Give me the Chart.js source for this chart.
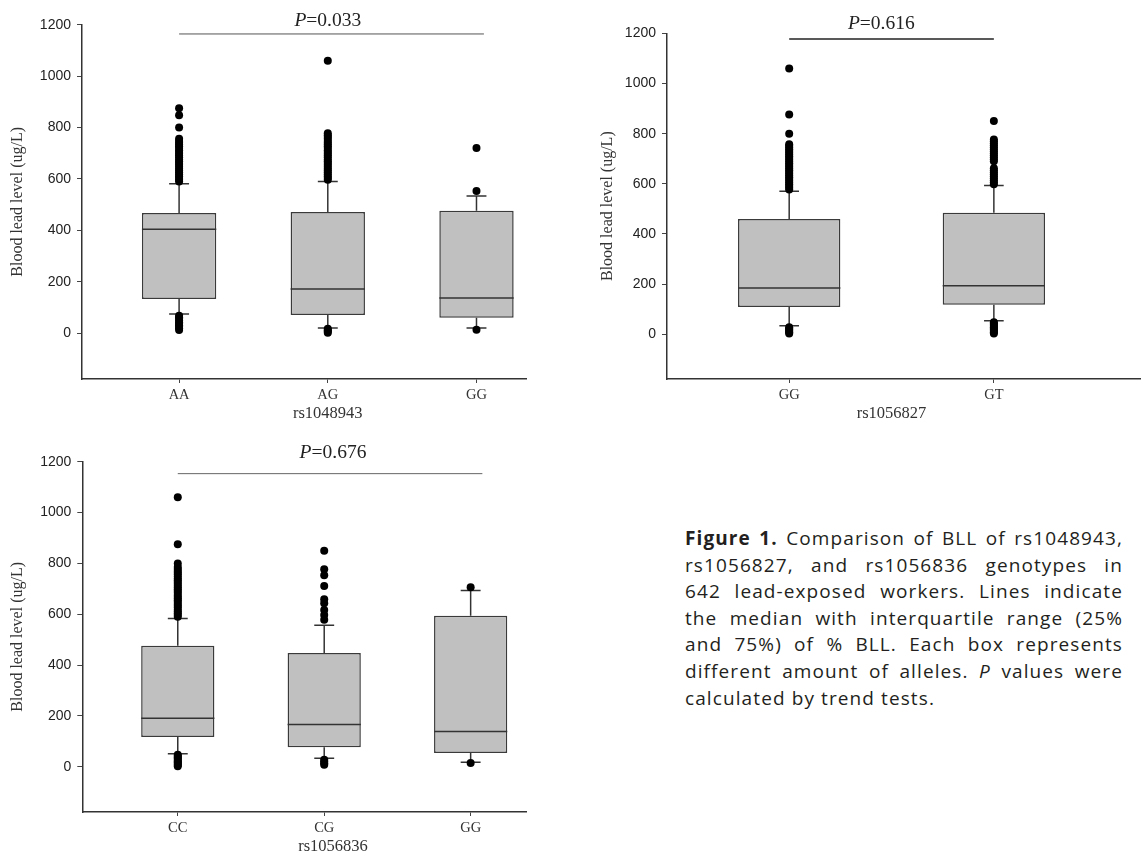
<!DOCTYPE html>
<html>
<head>
<meta charset="utf-8">
<script src="https://cdn.jsdelivr.net/npm/chart.js@4.4.1/dist/chart.umd.min.js"></script>
<style>
    html, body { margin: 0; padding: 0; background: #fff; width: 1144px; height: 854px; overflow: hidden; }
    .panel { position: absolute; }
    .caption {
        position: absolute; left: 685px; top: 525px; width: 438px;
        font-family: 'Open Sans', 'Noto Sans', sans-serif; font-size: 19px; line-height: 26.6px;
        letter-spacing: 1.1px; color: #231f20;
    }
    .caption span { display: block; text-align: justify; text-align-last: justify; white-space: nowrap; }
    .caption span.last { text-align-last: left; }
</style>
</head>
<body>
<div class="panel" style="left:0;top:0;width:530px;height:419px"><canvas id="chart1"></canvas></div>
<div class="panel" style="left:590px;top:0;width:554px;height:419px"><canvas id="chart2"></canvas></div>
<div class="panel" style="left:0;top:430px;width:530px;height:422px"><canvas id="chart3"></canvas></div>
<div class="caption">
<span><b>Figure 1.</b> Comparison of BLL of rs1048943,</span>
<span>rs1056827, and rs1056836 genotypes in</span>
<span>642 lead-exposed workers. Lines indicate</span>
<span>the median with interquartile range (25%</span>
<span>and 75%) of % BLL. Each box represents</span>
<span>different amount of alleles. <i>P</i> values were</span>
<span class="last">calculated by trend tests.</span>
</div>
<script>
// tick labels shared by all three panels
const yTicks = [0, 200, 400, 600, 800, 1000, 1200];

// rs1048943
const genotypes1 = ['AA', 'AG', 'GG'];
const q1_1 = [133, 71, 60];
const median1 = [404, 172, 137];
const q3_1 = [468, 472, 476];
const whiskerLow1 = [75, 20, 20];
const whiskerHigh1 = [581, 590, 534];
const outliers1 = [
    [590, 597, 604, 611, 618, 626, 633, 640, 648, 655, 662, 669, 676, 684, 691, 698, 705, 712, 720, 727, 734, 741, 748, 756, 800, 848, 875,
     13, 19, 25, 31, 37, 43, 50, 56, 62, 68],
    [597, 604, 611, 618, 626, 633, 640, 648, 655, 662, 669, 676, 684, 691, 698, 705, 712, 720, 727, 734, 741, 748, 756, 763, 770, 778, 1060,
     2, 7, 12, 17],
    [553, 720, 14]
];

// rs1056827
const genotypes2 = ['GG', 'GT'];
const q1_2 = [109, 118];
const median2 = [185, 194];
const q3_2 = [460, 485];
const whiskerLow2 = [34, 54];
const whiskerHigh2 = [570, 593];
const outliers2 = [
    [577, 584, 591, 598, 605, 612, 619, 626, 633, 640, 647, 654, 661, 668, 675, 682, 689, 696, 703, 710, 717, 724, 731, 738, 745, 752, 758, 800, 876, 1060,
     3, 8, 13, 18, 23, 28],
    [598, 606, 614, 622, 630, 638, 646, 654, 662, 690, 698, 706, 714, 722, 730, 738, 746, 754, 762, 770, 777, 850,
     3, 8, 13, 18, 23, 28, 33, 38, 43, 48]
];

// rs1056836
const genotypes3 = ['CC', 'CG', 'GG'];
const q1_3 = [117, 77, 54];
const median3 = [191, 166, 139];
const q3_3 = [476, 447, 594];
const whiskerLow3 = [51, 33, 18];
const whiskerHigh3 = [583, 557, 693];
const outliers3 = [
    [590, 597, 604, 611, 618, 626, 633, 640, 648, 655, 662, 669, 676, 684, 691, 698, 705, 712, 720, 727, 734, 741, 748, 756, 763, 770, 778, 786, 800, 875, 1060,
     2, 7, 12, 17, 22, 27, 32, 37, 42, 47],
    [578, 597, 617, 643, 659, 711, 753, 777, 850,
     8, 14, 21, 28],
    [706, 15]
];

const pLabels = ['=0.033', '=0.616', '=0.676'];
const xTitles = ['rs1048943', 'rs1056827', 'rs1056836'];

const serif = "'Liberation Serif', 'Times New Roman', serif";
const sans = "'Liberation Sans', Arial, sans-serif";
const ink = '#333';

Chart.defaults.font.family = sans;
Chart.defaults.color = ink;

// P value and x-axis title, centred over the genotype groups
const annotPlugin = {
    id: 'annot',
    afterDraw(chart, args, opts) {
        const { ctx, chartArea } = chart;
        const x = chart.scales.x, y = chart.scales.y;
        ctx.save();
        ctx.fillStyle = '#222';
        ctx.textBaseline = 'middle';
        ctx.textAlign = 'left';
        const italic = 'italic 19.5px ' + serif;
        const normal = '19.5px ' + serif;
        ctx.font = italic;
        const w1 = ctx.measureText('P').width;
        ctx.font = normal;
        const w2 = ctx.measureText(opts.pValue).width;
        const px = x.getPixelForValue(opts.pX) - (w1 + w2) / 2;
        const py = y.getPixelForValue(opts.pY);
        ctx.font = italic;
        ctx.fillText('P', px, py);
        ctx.font = normal;
        ctx.fillText(opts.pValue, px + w1, py);

        ctx.font = '16.5px ' + serif;
        ctx.textAlign = 'center';
        ctx.fillStyle = ink;
        ctx.fillText(opts.title, x.getPixelForValue(opts.titleX), chartArea.bottom + 35);
        ctx.restore();
    }
};

function makeBoxPlot(canvasId, cfg) {
    const { labels, q1, med, q3, lo, hi, outliers, capHalf } = cfg;

    const boxes = q1.map((v, i) => ({ x: i, y: [v, q3[i]] }));
    const medians = [];
    const whiskers = [];
    labels.forEach((_, i) => {
        medians.push({ x: i - 0.25, y: med[i] }, { x: i + 0.25, y: med[i] }, { x: i, y: null });
        whiskers.push(
            { x: i, y: q3[i] }, { x: i, y: hi[i] }, { x: i, y: null },
            { x: i - capHalf, y: hi[i] }, { x: i + capHalf, y: hi[i] }, { x: i, y: null },
            { x: i, y: q1[i] }, { x: i, y: lo[i] }, { x: i, y: null },
            { x: i - capHalf, y: lo[i] }, { x: i + capHalf, y: lo[i] }, { x: i, y: null }
        );
    });
    const points = [];
    outliers.forEach((list, i) => list.forEach(v => points.push({ x: i, y: v })));

    const lineStyle = { type: 'line', borderColor: ink, borderWidth: 1.5, pointRadius: 0, fill: false, tension: 0, spanGaps: false };

    return new Chart(document.getElementById(canvasId), {
        type: 'scatter',
        data: {
            datasets: [
                { type: 'scatter', data: points, pointRadius: 4, pointBackgroundColor: '#000', pointBorderWidth: 0, clip: false },
                Object.assign({ data: medians }, lineStyle),
                Object.assign({ data: whiskers }, lineStyle),
                {
                    type: 'line', data: [{ x: 0, y: cfg.pLineY }, { x: cfg.pLineEnd, y: cfg.pLineY }],
                    borderColor: cfg.pLineColor, borderWidth: cfg.pLineWidth, pointRadius: 0, fill: false
                },
                {
                    type: 'bar', data: boxes, backgroundColor: '#c0c0c0', borderColor: '#3a3a3a',
                    borderWidth: 1.5, borderSkipped: false, barPercentage: 0.5, categoryPercentage: 1
                }
            ]
        },
        options: {
            responsive: true,
            maintainAspectRatio: false,
            animation: false,
            layout: { padding: { top: cfg.top, left: 0, right: 0, bottom: 0 } },
            plugins: {
                legend: { display: false },
                tooltip: { enabled: false },
                annot: { pValue: cfg.pValue, pX: cfg.pX, pY: cfg.pY, title: cfg.title, titleX: cfg.titleX }
            },
            scales: {
                x: {
                    type: 'linear',
                    min: cfg.xMin,
                    max: cfg.xMax,
                    offset: false,
                    afterBuildTicks: s => { s.ticks = labels.map((_, i) => ({ value: i })); },
                    afterFit: s => { s.height = 40; },
                    ticks: {
                        callback: v => labels[v] || '',
                        font: { family: serif, size: 14.5 },
                        color: ink,
                        padding: 3,
                        maxRotation: 0
                    },
                    grid: { drawOnChartArea: false, drawTicks: true, tickLength: 4, color: '#444', offset: false },
                    border: { display: true, color: ink, width: 1.5 }
                },
                y: {
                    min: -178,
                    max: 1200,
                    afterBuildTicks: s => { s.ticks = yTicks.map(v => ({ value: v })); },
                    afterFit: s => { s.width = cfg.yWidth; },
                    ticks: { callback: v => String(v), font: { family: sans, size: 14 }, color: '#222', padding: 6 },
                    grid: { drawOnChartArea: false, drawTicks: true, tickLength: 5, color: '#444' },
                    border: { display: true, color: ink, width: 1.5 },
                    title: {
                        display: true,
                        text: 'Blood lead level (ug/L)',
                        font: { family: serif, size: 16 },
                        color: ink,
                        padding: { top: 8.4, bottom: 0 }
                    }
                }
            }
        },
        plugins: [annotPlugin]
    });
}

document.addEventListener('DOMContentLoaded', () => {
    makeBoxPlot('chart1', {
        labels: genotypes1, q1: q1_1, med: median1, q3: q3_1, lo: whiskerLow1, hi: whiskerHigh1, outliers: outliers1,
        capHalf: 0.067, xMin: -0.653, xMax: 2.333, yWidth: 82, top: 24.7,
        pLineY: 1164, pLineEnd: 2.05, pLineColor: '#555', pLineWidth: 1,
        pValue: pLabels[0], pX: 1.0, pY: 1215, title: xTitles[0], titleX: 1.0
    });
    makeBoxPlot('chart2', {
        labels: genotypes2, q1: q1_2, med: median2, q3: q3_2, lo: whiskerLow2, hi: whiskerHigh2, outliers: outliers2,
        capHalf: 0.048, xMin: -0.597, xMax: 1.714, yWidth: 77, top: 33.3,
        pLineY: 1177, pLineEnd: 1.0, pLineColor: '#222', pLineWidth: 1.5,
        pValue: pLabels[1], pX: 0.45, pY: 1237, title: xTitles[1], titleX: 0.5
    });
    makeBoxPlot('chart3', {
        labels: genotypes3, q1: q1_3, med: median3, q3: q3_3, lo: whiskerLow3, hi: whiskerHigh3, outliers: outliers3,
        capHalf: 0.068, xMin: -0.652, xMax: 2.378, yWidth: 82.3, top: 31.7,
        pLineY: 1153, pLineEnd: 2.08, pLineColor: '#666', pLineWidth: 1,
        pValue: pLabels[2], pX: 1.06, pY: 1235, title: xTitles[2], titleX: 1.06
    });
});
</script>
</body>
</html>
